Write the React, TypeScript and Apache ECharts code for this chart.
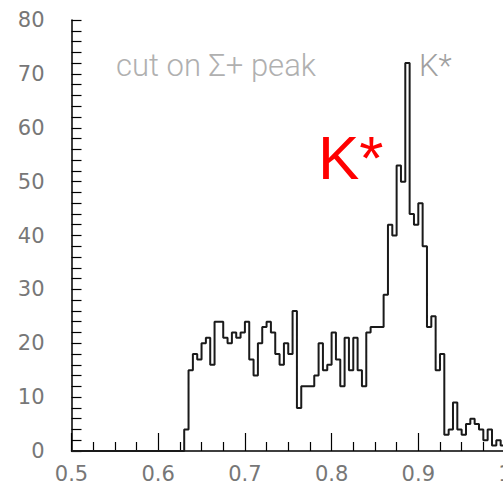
import React, { useEffect, useRef } from "react";
import * as echarts from "echarts";

// Histogram binning: 100 bins of width 0.005 starting at 0.5
const binStart = 0.5;
const binWidth = 0.005;

// Entries per bin (bins 0..99)
const counts: number[] = [
  0, 0, 0, 0, 0, 0, 0, 0, 0, 0,
  0, 0, 0, 0, 0, 0, 0, 0, 0, 0,
  0, 0, 0, 0, 0, 0, 4, 15, 18, 17,
  20, 21, 16, 24, 24, 21, 20, 22, 21, 22,
  24, 17, 14, 20, 23, 24, 22, 18, 16, 20,
  18, 26, 8, 12, 12, 12, 14, 20, 15, 16,
  22, 17, 12, 21, 15, 21, 15, 12, 22, 23,
  23, 23, 29, 42, 40, 53, 50, 72, 44, 42,
  46, 38, 23, 25, 15, 18, 3, 4, 9, 4,
  3, 5, 6, 5, 4, 2, 4, 1, 2, 1,
];

const xTicks = { min: 0.5, max: 1.0, step: 0.1 };
const yTicks = { min: 0, max: 80, step: 10 };

const titleText = "cut on \u03A3+ peak";
const peakTag = "K*";
const peakLabel = "K*";

export default function App() {
  const ref = useRef<HTMLDivElement>(null);

  useEffect(() => {
    if (!ref.current) return;
    const chart = echarts.init(ref.current, undefined, { renderer: "svg" });

    // step outline: each point is a bin's left edge with its content, closed at the upper edge
    const outline: [number, number][] = counts.map((c, i) => [
      +(binStart + i * binWidth).toFixed(4),
      c,
    ]);
    outline.push([+(binStart + counts.length * binWidth).toFixed(4), 0]);

    const axisLabel = {
      fontFamily: "DejaVu Sans",
      fontSize: 21,
      color: "#777",
    };

    chart.setOption({
      animation: false,
      backgroundColor: "#fff",
      // the frame runs a little past the page's right edge, so the last label is cut
      grid: {
        left: 71.5,
        top: 20,
        width: 433.5,
        height: 431,
        containLabel: false,
        outerBoundsMode: "none",
      },
      xAxis: {
        type: "value",
        min: xTicks.min,
        max: xTicks.max,
        interval: xTicks.step,
        axisLine: { lineStyle: { color: "#000", width: 1.5 } },
        axisTick: { inside: true, length: 18, lineStyle: { color: "#000", width: 1.2 } },
        minorTick: { show: true, splitNumber: 4, length: 9, lineStyle: { color: "#000", width: 1.2 } },
        splitLine: { show: false },
        axisLabel: { ...axisLabel, margin: 12 },
      },
      yAxis: {
        type: "value",
        min: yTicks.min,
        max: yTicks.max,
        interval: yTicks.step,
        axisLine: { show: true, lineStyle: { color: "#000", width: 1.5 } },
        axisTick: { show: true, inside: true, length: 10, lineStyle: { color: "#000", width: 1.2 } },
        minorTick: { show: true, splitNumber: 5, length: 10, lineStyle: { color: "#000", width: 1.2 } },
        splitLine: { show: false },
        axisLabel: { ...axisLabel, margin: 27 },
      },
      series: [
        {
          type: "line",
          step: "end",
          symbol: "none",
          silent: true,
          data: outline,
          lineStyle: { color: "#1a1a1a", width: 2 },
        },
      ],
      graphic: [
        {
          type: "text",
          x: 116,
          y: 65,
          style: {
            text: titleText,
            fontFamily: "Roboto",
            fontWeight: 300,
            fontSize: 31,
            fill: "#b0b0b0",
            verticalAlign: "middle",
          },
        },
        {
          type: "text",
          x: 419,
          y: 65,
          style: {
            text: peakTag,
            fontFamily: "Roboto",
            fontWeight: 300,
            fontSize: 31,
            fill: "#a0a0a0",
            verticalAlign: "middle",
          },
        },
        {
          type: "text",
          x: 318,
          y: 157.5,
          style: {
            text: peakLabel,
            fontFamily: "Liberation Sans",
            fontSize: 62,
            fill: "#ff0000",
            verticalAlign: "middle",
          },
        },
      ],
    });

    return () => chart.dispose();
  }, []);

  return (
    <div
      ref={ref}
      style={{ position: "absolute", left: 0, top: 0, width: 503, height: 485 }}
    />
  );
}
